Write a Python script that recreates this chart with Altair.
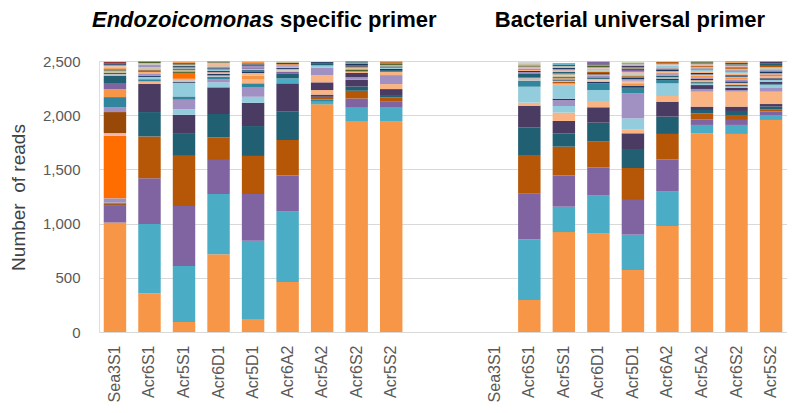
import altair as alt
import pandas as pd

# ---------------- data ----------------
samples = ["Sea3S1", "Acr6S1", "Acr5S1", "Acr6D1", "Acr5D1", "Acr6A2", "Acr5A2", "Acr6S2", "Acr5S2"]

taxa = ["A", "B", "C", "D", "E", "F", "G", "H", "I", "J", "K",
        "L", "M", "N", "O", "P", "Q", "R", "S", "T", "U"]
taxa_colors = ["#F79646", "#4BACC6", "#8064A2", "#B65708", "#215F72", "#4A3B62",
               "#FAB382", "#93CDDD", "#A191C2", "#31859C", "#FF6D00", "#984807",
               "#8E8E70", "#1F3864", "#C4BD97", "#BFBFBF", "#4F6228", "#E6B9B8",
               "#17375E", "#953735", "#77933C"]

# Endozoicomonas specific primer (bottom -> top)
endo_Sea3S1 = [("A", 1010), ("C", 155), ("L", 15), ("M", 15), ("I", 38), ("K", 577), ("R", 25),
               ("L", 194), ("I", 46), ("J", 92), ("A", 74), ("C", 56), ("E", 68),
               ("P", 15), ("Q", 12), ("O", 14), ("M", 12), ("U", 10), ("A", 12), ("P", 10),
               ("G", 10), ("S", 10), ("N", 8), ("T", 14)]
endo_Acr6S1 = [("A", 355), ("B", 641), ("C", 422), ("D", 386), ("E", 225), ("F", 259),
               ("G", 24), ("J", 20), ("H", 21), ("N", 12), ("I", 15), ("P", 12), ("A", 10),
               ("S", 10), ("D", 8), ("O", 14), ("R", 10), ("I", 12), ("M", 10), ("P", 15), ("Q", 14)]
endo_Acr5S1 = [("A", 92), ("B", 518), ("C", 552), ("D", 463), ("E", 203), ("F", 176),
               ("H", 52), ("I", 87), ("J", 30), ("H", 124), ("N", 8), ("G", 12), ("P", 19),
               ("K", 54), ("Q", 14), ("O", 15), ("E", 12), ("P", 10), ("S", 12), ("G", 10),
               ("M", 12), ("N", 8), ("A", 12)]
endo_Acr6D1 = [("A", 717), ("B", 556), ("C", 314), ("D", 209), ("E", 215), ("F", 246),
               ("H", 46), ("I", 27), ("J", 25), ("P", 12), ("N", 14), ("G", 15), ("F", 12),
               ("H", 15), ("S", 10), ("I", 14), ("O", 12), ("A", 10), ("R", 12), ("M", 16)]
endo_Acr5D1 = [("A", 120), ("B", 722), ("C", 431), ("D", 351), ("E", 276), ("F", 215),
               ("H", 55), ("I", 85), ("J", 39), ("G", 40), ("A", 30), ("G", 25), ("N", 12),
               ("E", 15), ("P", 12), ("C", 14), ("I", 15), ("S", 12), ("M", 12), ("A", 14)]
endo_Acr6A2 = [("A", 461), ("B", 649), ("C", 335), ("D", 326), ("E", 261), ("F", 262),
               ("B", 46), ("E", 46), ("C", 15), ("H", 12), ("G", 12), ("N", 10), ("P", 12),
               ("I", 14), ("A", 10), ("S", 10), ("O", 14)]
endo_Acr5A2 = [("A", 2100), ("B", 24), ("J", 22), ("D", 24), ("F", 20), ("G", 42), ("F", 71),
               ("G", 67), ("I", 70), ("H", 20), ("E", 20), ("N", 10)]
endo_Acr6S2 = [("A", 1940), ("B", 129), ("C", 86), ("D", 71), ("E", 38), ("F", 62), ("I", 25),
               ("F", 38), ("G", 15), ("Q", 12), ("A", 14), ("O", 12), ("N", 10), ("D", 12),
               ("S", 10), ("M", 12), ("E", 10)]
endo_Acr5S2 = [("A", 1940), ("B", 129), ("C", 55), ("D", 40), ("E", 22), ("F", 55), ("G", 46),
               ("I", 83), ("G", 31), ("E", 15), ("S", 12), ("H", 12), ("N", 10), ("O", 12),
               ("Q", 10), ("M", 12), ("D", 10)]

# Bacterial universal primer (bottom -> top); Sea3S1 has no reads
univ_Sea3S1 = []
univ_Acr6S1 = [("A", 295), ("B", 560), ("C", 424), ("D", 354), ("E", 252), ("F", 203),
               ("G", 28), ("H", 147), ("J", 55), ("P", 28), ("E", 40), ("I", 12), ("N", 10),
               ("G", 12), ("C", 10), ("R", 12), ("M", 12), ("A", 10), ("O", 12), ("P", 12)]
univ_Acr5S1 = [("A", 922), ("B", 234), ("C", 289), ("D", 265), ("E", 123), ("F", 114),
               ("G", 77), ("H", 61), ("I", 55), ("N", 12), ("H", 126), ("G", 15), ("D", 14),
               ("P", 12), ("S", 10), ("A", 12), ("J", 12), ("O", 12), ("R", 10), ("M", 10),
               ("E", 14), ("G", 15), ("I", 12), ("N", 12), ("P", 15), ("Q", 12), ("B", 15)]
univ_Acr6D1 = [("A", 907), ("B", 351), ("C", 261), ("D", 237), ("E", 175), ("F", 142),
               ("G", 58), ("H", 101), ("J", 62), ("N", 14), ("P", 12), ("G", 15), ("E", 14),
               ("I", 15), ("A", 12), ("S", 12), ("D", 14), ("O", 12), ("H", 15), ("R", 12),
               ("Q", 14), ("M", 12), ("F", 12), ("C", 15)]
univ_Acr5D1 = [("A", 572), ("B", 326), ("C", 320), ("D", 295), ("E", 175), ("F", 145),
               ("G", 37), ("H", 101), ("I", 230), ("J", 43), ("E", 15), ("N", 14), ("A", 15),
               ("P", 12), ("G", 18), ("I", 16), ("S", 12), ("D", 14), ("H", 15), ("O", 12),
               ("R", 14), ("C", 16), ("Q", 12), ("M", 14), ("F", 15), ("P", 17), ("U", 10)]
univ_Acr6A2 = [("A", 978), ("B", 322), ("C", 293), ("D", 234), ("E", 160), ("F", 138),
               ("G", 52), ("H", 117), ("J", 30), ("N", 14), ("P", 12), ("E", 15), ("I", 14),
               ("A", 12), ("G", 15), ("S", 12), ("C", 14), ("O", 12), ("H", 14), ("R", 12),
               ("M", 12), ("D", 10)]
univ_Acr5A2 = [("A", 1833), ("B", 77), ("C", 52), ("D", 55), ("E", 31), ("F", 31), ("G", 138),
               ("I", 25), ("F", 36), ("H", 15), ("E", 12), ("G", 18), ("N", 12), ("I", 15),
               ("A", 14), ("P", 12), ("S", 14), ("G", 16), ("H", 14), ("C", 12), ("O", 14),
               ("D", 12), ("R", 12), ("M", 14), ("Q", 10)]
univ_Acr6S2 = [("A", 1827), ("B", 83), ("C", 46), ("D", 46), ("E", 37), ("F", 40), ("G", 138),
               ("I", 14), ("F", 20), ("H", 15), ("E", 12), ("G", 20), ("N", 14), ("I", 16),
               ("A", 15), ("P", 12), ("S", 14), ("G", 18), ("H", 15), ("C", 12), ("O", 14),
               ("D", 15), ("R", 12), ("M", 14), ("E", 15), ("A", 16)]
univ_Acr5S2 = [("A", 1956), ("B", 46), ("C", 31), ("D", 22), ("E", 25), ("F", 23), ("G", 114),
               ("I", 40), ("H", 25), ("E", 15), ("F", 12), ("H", 18), ("N", 14), ("G", 20),
               ("I", 15), ("A", 12), ("S", 14), ("C", 12), ("H", 15), ("O", 14), ("D", 12),
               ("E", 20), ("F", 19)]

endo_bars = [endo_Sea3S1, endo_Acr6S1, endo_Acr5S1, endo_Acr6D1, endo_Acr5D1,
             endo_Acr6A2, endo_Acr5A2, endo_Acr6S2, endo_Acr5S2]
univ_bars = [univ_Sea3S1, univ_Acr6S1, univ_Acr5S1, univ_Acr6D1, univ_Acr5D1,
             univ_Acr6A2, univ_Acr5A2, univ_Acr6S2, univ_Acr5S2]

y_ticks = [0, 500, 1000, 1500, 2000, 2500]

# ---------------- table ----------------
slots = ["L|" + s for s in samples] + ["gap1", "gap2"] + ["R|" + s for s in samples]

rows = []
for prefix, bars in (("L", endo_bars), ("R", univ_bars)):
    for s, segs in zip(samples, bars):
        for i, (t, v) in enumerate(segs):
            rows.append({"slot": f"{prefix}|{s}", "taxon": t, "reads": v, "seg": i})
df = pd.DataFrame(rows)

FONT = "Liberation Sans"

x_scale = alt.Scale(domain=slots, paddingInner=0.35, paddingOuter=0.137)
x_axis = alt.Axis(
    title=None,
    labelAngle=-90,
    labelExpr="indexof(datum.value, '|') >= 0 ? split(datum.value, '|')[1] : ''",
    labelFontSize=16,
    labelColor="#595959",
    labelPadding=13,
    labelFont=FONT,
    ticks=False,
    grid=False,
    domain=True,
    domainColor="#D9D9D9",
    domainWidth=1,
)

bars = alt.Chart(df).mark_bar().encode(
    x=alt.X("slot:N", scale=x_scale, axis=x_axis, sort=slots),
    y=alt.Y(
        "reads:Q",
        stack="zero",
        scale=alt.Scale(domain=[0, 2500], nice=False),
        axis=alt.Axis(
            title="Number\u00a0 of reads",
            values=y_ticks,
            format=",d",
            labelFontSize=15,
            labelColor="#595959",
            labelPadding=19,
            labelFont=FONT,
            ticks=False,
            domain=False,
            grid=True,
            gridColor="#D9D9D9",
            titleFontSize=19,
            titleFontWeight="normal",
            titleColor="#404040",
            titleFont=FONT,
            titleAngle=-90,
            titleAlign="center",
            titleBaseline="middle",
            titleX=-81,
            titleY=136,
        ),
    ),
    color=alt.Color("taxon:N", scale=alt.Scale(domain=taxa, range=taxa_colors), legend=None),
    order=alt.Order("seg:Q"),
)

title_italic = alt.Chart(pd.DataFrame({"slot": ["L|Acr5D1"], "label": ["Endozoicomonas"]})).mark_text(
    align="right", baseline="middle", dx=21, font=FONT, fontSize=22,
    fontWeight="bold", fontStyle="italic", color="#000000"
).encode(x=alt.X("slot:N", scale=x_scale, axis=x_axis, sort=slots), y=alt.value(-41), text="label:N")

title_rest = alt.Chart(pd.DataFrame({"slot": ["L|Acr5D1"], "label": ["specific primer"]})).mark_text(
    align="left", baseline="middle", dx=27, font=FONT, fontSize=22,
    fontWeight="bold", color="#000000"
).encode(x=alt.X("slot:N", scale=x_scale, axis=x_axis, sort=slots), y=alt.value(-41), text="label:N")

title_right = alt.Chart(pd.DataFrame({"slot": ["R|Acr5D1"], "label": ["Bacterial universal primer"]})).mark_text(
    align="center", baseline="middle", dx=-3, font=FONT, fontSize=22,
    fontWeight="bold", color="#000000"
).encode(x=alt.X("slot:N", scale=x_scale, axis=x_axis, sort=slots), y=alt.value(-41), text="label:N")

chart = alt.layer(bars, title_italic, title_rest, title_right).properties(
    width=688,
    height=271,
    autosize=alt.AutoSizeParams(type="none"),
    padding={"left": 91, "top": 53, "right": 0, "bottom": 70},
).configure_view(stroke=None).configure(font=FONT)

chart.save("out.html", embed_options={"renderer": "svg", "actions": False})
